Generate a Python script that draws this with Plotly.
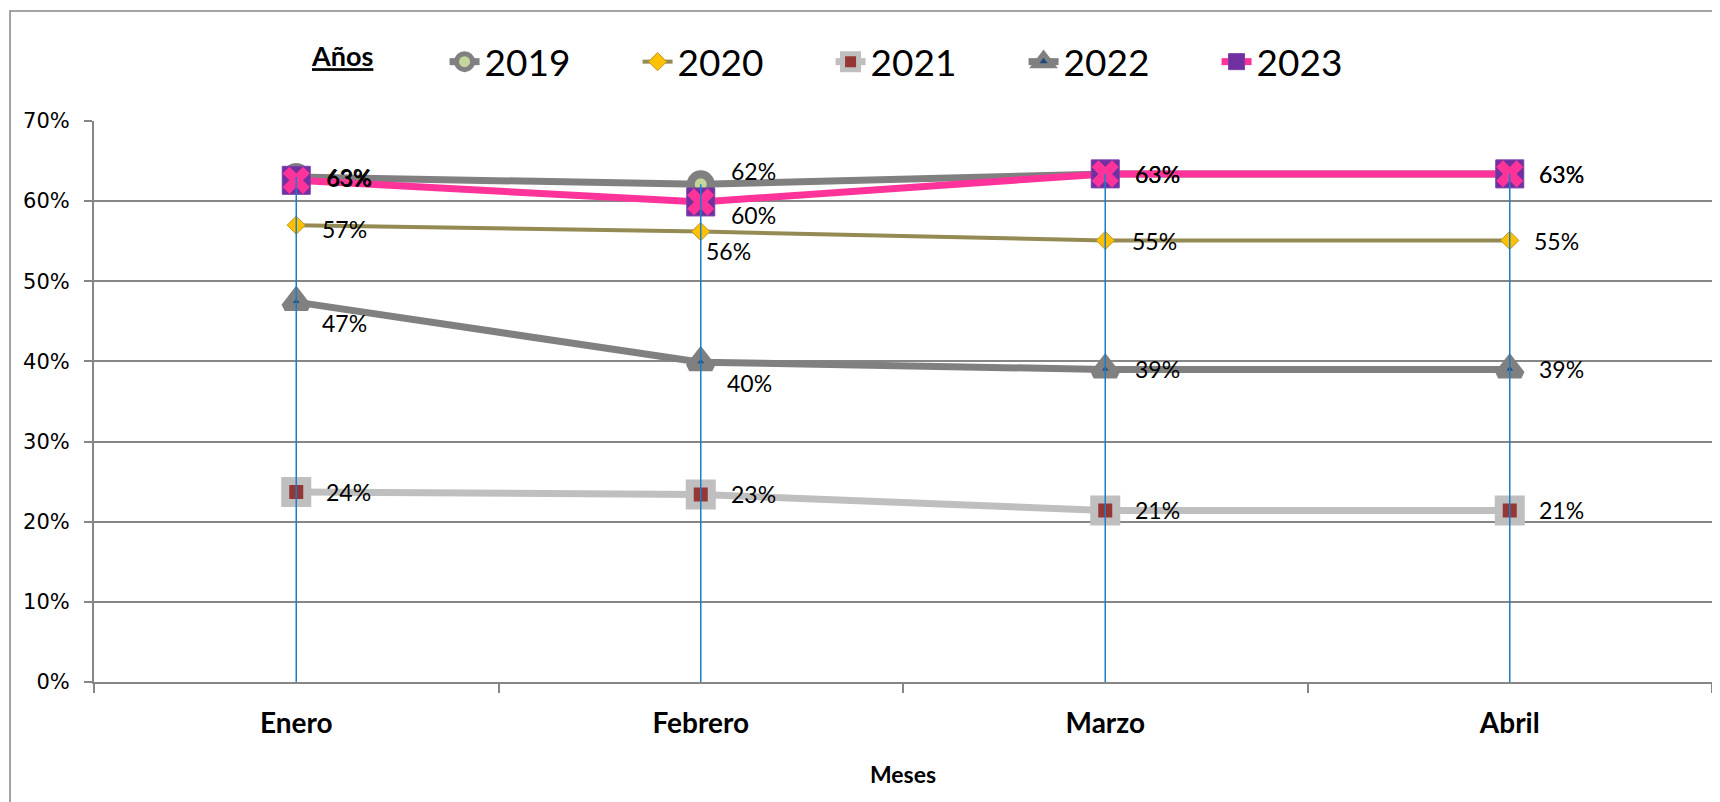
import plotly.graph_objects as go

# data
meses = ["Enero", "Febrero", "Marzo", "Abril"]
anios = ["2019", "2020", "2021", "2022", "2023"]
v2019 = [0.630, 0.621, 0.634, 0.634]
v2020 = [0.570, 0.562, 0.551, 0.551]
v2021 = [0.237, 0.234, 0.214, 0.214]
v2022 = [0.474, 0.399, 0.390, 0.390]
v2023 = [0.626, 0.599, 0.634, 0.634]
y_ticks = [0, 0.1, 0.2, 0.3, 0.4, 0.5, 0.6, 0.7]
y_labels = ["0%", "10%", "20%", "30%", "40%", "50%", "60%", "70%"]

# label offsets (px) from each point, per series
label_dx = {
    "2019": [28, 28, 28, 27],
    "2020": [24, 3, 25, 22],
    "2021": [28, 28, 28, 27],
    "2022": [24, 24, 28, 27],
    "2023": [29, 28, 28, 27],
}
label_dy = {
    "2019": [0, 13, 0, 0],
    "2020": [-4, -19, -1, -1],
    "2021": [0, 0, 0, 0],
    "2022": [-21, -21, 0, 0],
    "2023": [2, -13, 0, 0],
}

LABEL_FONT = dict(family="Lato, Open Sans, sans-serif", size=23, color="black")

fig = go.Figure()


def add_series(name, vals, line, marker, legend=True):
    fig.add_trace(go.Scatter(
        x=meses, y=vals, name=name, mode="lines+markers",
        line=line, marker=marker,
        showlegend=legend, legendgroup=name, hoverinfo="skip", cliponaxis=False))


add_series("2019", v2019, dict(color="#808080", width=7),
           dict(symbol="circle", size=20, color="#c3d69b", line=dict(color="#808080", width=8)))
add_series("2020", v2020, dict(color="#948a54", width=4),
           dict(symbol="diamond", size=14, color="#ffc000", line=dict(color="#b8962e", width=1)))
add_series("2021", v2021, dict(color="#bfbfbf", width=7),
           dict(symbol="square", size=22, color="#953735", line=dict(color="#bfbfbf", width=8)))
add_series("2022", v2022, dict(color="#808080", width=7),
           dict(symbol="triangle-up", size=20, color="#1f497d", line=dict(color="#808080", width=8)))
# 2023: purple square under a pink X
add_series("2023", v2023, dict(color="#ff3399", width=7),
           dict(symbol="square", size=28, color="#7030a0", line=dict(color="#7a3fa8", width=1)))
fig.add_trace(go.Scatter(
    x=meses, y=v2023, mode="markers", showlegend=False, legendgroup="2023",
    marker=dict(symbol="x", size=24, color="#ff3399", line=dict(width=0)),
    hoverinfo="skip", cliponaxis=False))

# drop lines from highest point to the axis
tops = [max(vals) for vals in zip(v2019, v2020, v2021, v2022, v2023)]
dx, dy = [], []
for m, t in zip(meses, tops):
    dx += [m, m, None]
    dy += [0, t, None]
fig.add_trace(go.Scatter(x=dx, y=dy, mode="lines", line=dict(color="#1a7dc9", width=1.5),
                         showlegend=False, hoverinfo="skip"))

# data labels
for name, vals in zip(anios, [v2019, v2020, v2021, v2022, v2023]):
    for i, (m, v) in enumerate(zip(meses, vals)):
        fig.add_annotation(x=m, y=v, text=f"{round(v * 100):.0f}%", showarrow=False,
                           xanchor="left", yanchor="middle",
                           xshift=label_dx[name][i], yshift=label_dy[name][i],
                           font=LABEL_FONT)

fig.update_layout(
    width=1720, height=802,
    margin=dict(l=86, r=16, t=113, b=128),
    paper_bgcolor="white", plot_bgcolor="white",
    font=dict(family="Lato, Open Sans, sans-serif", color="black"),
    legend=dict(
        orientation="h", x=0.1335, xanchor="left", y=1.105, yanchor="middle",
        title=dict(text="<b><u>Años</u></b>" + "\u00a0" * 9, side="left",
                   font=dict(family="Lato, sans-serif", size=27)),
        font=dict(family="Lato, sans-serif", size=37),
        entrywidth=148, entrywidthmode="pixels", itemsizing="trace",
        bgcolor="rgba(0,0,0,0)",
    ),
    xaxis=dict(
        type="category", range=[-0.5, 3.5], showgrid=False,
        showline=True, linecolor="#868686", linewidth=2,
        ticks="outside", tickson="boundaries", ticklen=9, tickcolor="#868686", tickwidth=1.5,
        ticklabelstandoff=15,
        tickfont=dict(family="Lato, sans-serif", size=28, color="black", weight="bold"),
        title=dict(text="<b>Meses</b>", font=dict(family="Lato, sans-serif", size=23), standoff=29),
    ),
    yaxis=dict(
        range=[0, 0.7], tickvals=y_ticks, ticktext=y_labels,
        showgrid=True, gridcolor="#868686", gridwidth=1.5,
        showline=True, linecolor="#868686", linewidth=2,
        ticks="outside", ticklen=8, tickcolor="#868686", tickwidth=1.5,
        ticklabelstandoff=10,
        tickfont=dict(family="DejaVu Sans, Verdana, sans-serif", size=21, color="black"),
        zeroline=False,
    ),
    shapes=[dict(type="rect", xref="paper", yref="paper",
                 x0=-0.0519, x1=1.2, y0=-0.5, y1=1.196,
                 line=dict(color="#868686", width=1.5), layer="below")],
)

fig.write_html("out.html")
